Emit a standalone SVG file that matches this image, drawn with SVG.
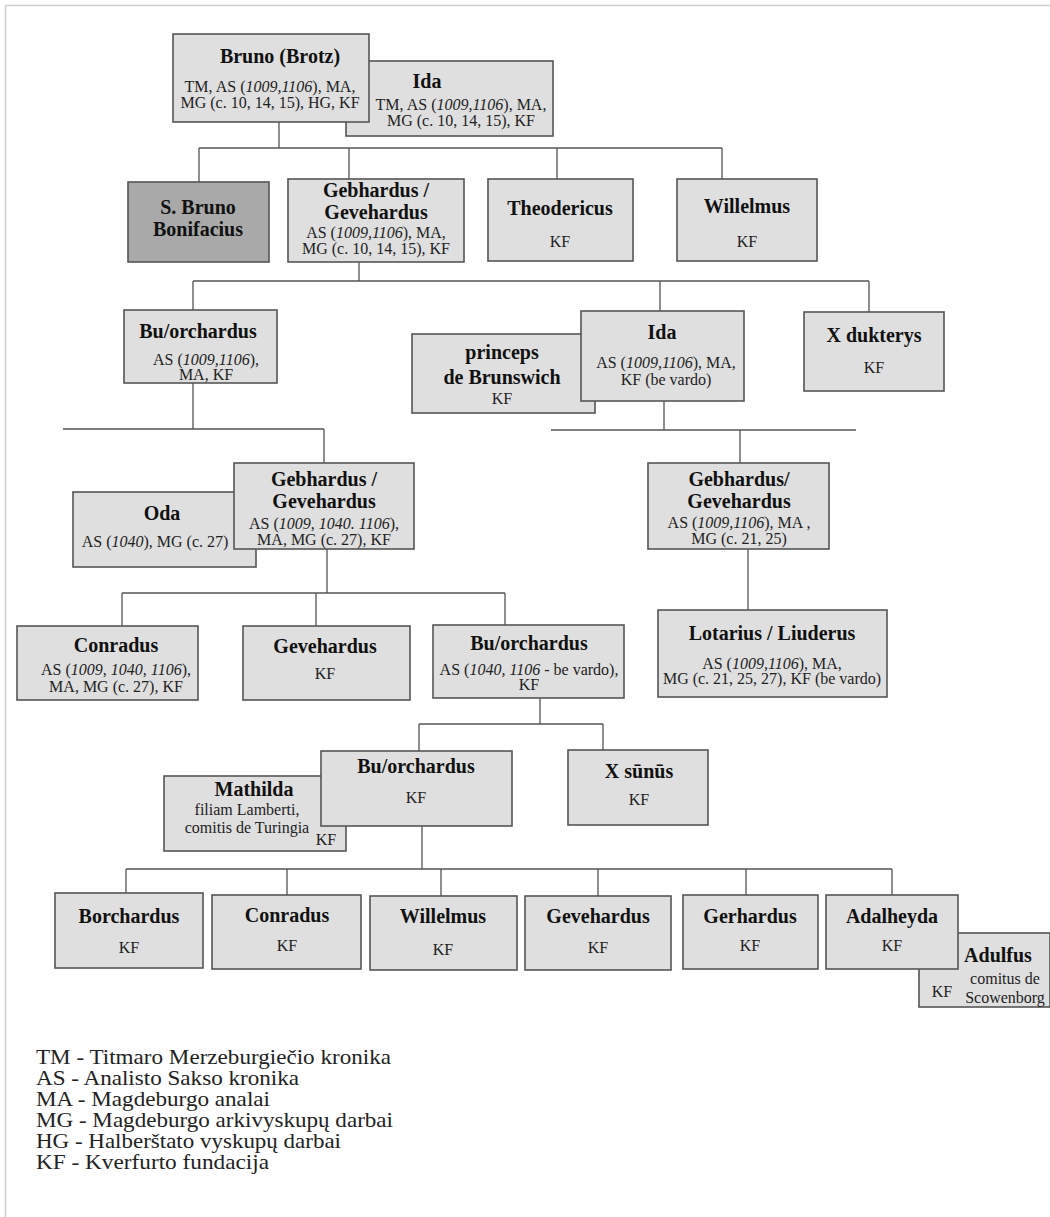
<svg xmlns="http://www.w3.org/2000/svg" width="1050" height="1217" viewBox="0 0 1050 1217">
<style>
.bx{fill:#dfdfdf;stroke:#555;stroke-width:1.6}
.dk{fill:#a9a9a9;stroke:#555;stroke-width:1.6}
.t{font-family:"Liberation Serif","Times New Roman",serif;font-weight:bold;font-size:20px;fill:#111;text-anchor:middle}
.s{font-family:"Liberation Serif","Times New Roman",serif;font-size:16px;fill:#222;text-anchor:middle}
.lg{font-family:"Liberation Serif","Times New Roman",serif;font-size:21px;fill:#222}
.c{fill:none;stroke:#555;stroke-width:1.3}
.fr{stroke:#cfcfcf;stroke-width:1.5}
</style>
<rect x="0" y="0" width="1050" height="1217" fill="#fff"/>
<line class="fr" x1="5" y1="5.5" x2="1050" y2="5.5"/>
<line class="fr" x1="5.5" y1="5" x2="5.5" y2="1217"/>
<g id="connectors">
<path class="c" d="M279,122V148M199,148H722M199,148V182M349,148V179M557,148V179M722,148V179"/>
<path class="c" d="M359,262V281M193,281H869M193,281V310M660,281V311M869,281V312"/>
<path class="c" d="M193,383V429M63,429H324M324,429V463"/>
<path class="c" d="M664,401V430M551,430H856M740,430V463"/>
<path class="c" d="M327,549V593M122,593H505M122,593V626M316,593V626M505,593V625"/>
<path class="c" d="M748,549V610"/>
<path class="c" d="M540,698V724M419,724H603M419,724V751M603,724V750"/>
<path class="c" d="M422,826V869M126,869H892M126,869V893M287,869V895M441,869V896M598,869V896M746,869V895M892,869V895"/>
</g>
<g id="n_ida1"><rect class="bx" x="346" y="61" width="207" height="75"/>
<text class="t" x="427" y="88">Ida</text>
<text class="s" x="461" y="110">TM, AS (<tspan font-style="italic">1009,1106</tspan>), MA,</text>
<text class="s" x="461" y="126">MG (c. 10, 14, 15), KF</text></g>
<g id="n_bruno"><rect class="bx" x="173" y="34" width="196" height="88"/>
<text class="t" x="280" y="63">Bruno (Brotz)</text>
<text class="s" x="270" y="92">TM, AS (<tspan font-style="italic">1009,1106</tspan>), MA,</text>
<text class="s" x="270" y="108">MG (c. 10, 14, 15), HG, KF</text></g>
<g id="n_sbruno"><rect class="dk" x="128" y="182" width="141" height="80"/>
<text class="t" x="198" y="214">S. Bruno</text>
<text class="t" x="198" y="236">Bonifacius</text></g>
<g id="n_gebh1"><rect class="bx" x="288" y="179" width="176" height="83"/>
<text class="t" x="376" y="197">Gebhardus /</text>
<text class="t" x="376" y="219">Gevehardus</text>
<text class="s" x="376" y="238">AS (<tspan font-style="italic">1009,1106</tspan>), MA,</text>
<text class="s" x="376" y="254">MG (c. 10, 14, 15), KF</text></g>
<g id="n_theod"><rect class="bx" x="488" y="179" width="145" height="82"/>
<text class="t" x="560" y="215">Theodericus</text>
<text class="s" x="560" y="247">KF</text></g>
<g id="n_will1"><rect class="bx" x="677" y="179" width="140" height="82"/>
<text class="t" x="747" y="213">Willelmus</text>
<text class="s" x="747" y="247">KF</text></g>
<g id="n_bu1"><rect class="bx" x="124" y="310" width="153" height="73"/>
<text class="t" x="198" y="338">Bu/orchardus</text>
<text class="s" x="206" y="365">AS (<tspan font-style="italic">1009,1106</tspan>),</text>
<text class="s" x="206" y="380">MA, KF</text></g>
<g id="n_princeps"><rect class="bx" x="412" y="334" width="183" height="79"/>
<text class="t" x="502" y="359">princeps</text>
<text class="t" x="502" y="384">de Brunswich</text>
<text class="s" x="502" y="404">KF</text></g>
<g id="n_ida2"><rect class="bx" x="581" y="311" width="163" height="90"/>
<text class="t" x="662" y="339">Ida</text>
<text class="s" x="666" y="368">AS (<tspan font-style="italic">1009,1106</tspan>), MA,</text>
<text class="s" x="666" y="385">KF (be vardo)</text></g>
<g id="n_xdukt"><rect class="bx" x="804" y="312" width="140" height="79"/>
<text class="t" x="874" y="342">X dukterys</text>
<text class="s" x="874" y="373">KF</text></g>
<g id="n_oda"><rect class="bx" x="73" y="492" width="183" height="75"/>
<text class="t" x="162" y="520">Oda</text>
<text class="s" x="155" y="547">AS (<tspan font-style="italic">1040</tspan>), MG (c. 27)</text></g>
<g id="n_gebh2"><rect class="bx" x="234" y="463" width="180" height="86"/>
<text class="t" x="324" y="486">Gebhardus /</text>
<text class="t" x="324" y="508">Gevehardus</text>
<text class="s" x="324" y="529">AS (<tspan font-style="italic">1009</tspan>, <tspan font-style="italic">1040. 1106</tspan>),</text>
<text class="s" x="324" y="545">MA, MG (c. 27), KF</text></g>
<g id="n_gebh3"><rect class="bx" x="648" y="463" width="181" height="86"/>
<text class="t" x="739" y="486">Gebhardus/</text>
<text class="t" x="739" y="508">Gevehardus</text>
<text class="s" x="739" y="528">AS (<tspan font-style="italic">1009,1106</tspan>), MA ,</text>
<text class="s" x="739" y="544">MG (c. 21, 25)</text></g>
<g id="n_conr1"><rect class="bx" x="17" y="626" width="181" height="74"/>
<text class="t" x="116" y="652">Conradus</text>
<text class="s" x="116" y="675">AS (<tspan font-style="italic">1009</tspan>, <tspan font-style="italic">1040</tspan>, <tspan font-style="italic">1106</tspan>),</text>
<text class="s" x="116" y="692">MA, MG (c. 27), KF</text></g>
<g id="n_geve1"><rect class="bx" x="243" y="626" width="167" height="74"/>
<text class="t" x="325" y="653">Gevehardus</text>
<text class="s" x="325" y="679">KF</text></g>
<g id="n_bu2"><rect class="bx" x="433" y="625" width="191" height="73"/>
<text class="t" x="529" y="650">Bu/orchardus</text>
<text class="s" x="529" y="675">AS (<tspan font-style="italic">1040, 1106</tspan> - be vardo),</text>
<text class="s" x="529" y="690">KF</text></g>
<g id="n_lotar"><rect class="bx" x="658" y="610" width="229" height="87"/>
<text class="t" x="772" y="640">Lotarius / Liuderus</text>
<text class="s" x="772" y="669">AS (<tspan font-style="italic">1009,1106</tspan>), MA,</text>
<text class="s" x="772" y="684">MG (c. 21, 25, 27), KF (be vardo)</text></g>
<g id="n_mathilda"><rect class="bx" x="164" y="776" width="182" height="75"/>
<text class="t" x="254" y="796">Mathilda</text>
<text class="s" x="247" y="815">filiam Lamberti,</text>
<text class="s" x="247" y="833">comitis de Turingia</text>
<text class="s" x="326" y="845">KF</text></g>
<g id="n_bu3"><rect class="bx" x="321" y="751" width="191" height="75"/>
<text class="t" x="416" y="773">Bu/orchardus</text>
<text class="s" x="416" y="803">KF</text></g>
<g id="n_xsunus"><rect class="bx" x="568" y="750" width="140" height="75"/>
<text class="t" x="639" y="778">X sūnūs</text>
<text class="s" x="639" y="805">KF</text></g>
<g id="n_borch"><rect class="bx" x="55" y="893" width="148" height="75"/>
<text class="t" x="129" y="923">Borchardus</text>
<text class="s" x="129" y="953">KF</text></g>
<g id="n_conr2"><rect class="bx" x="212" y="895" width="149" height="74"/>
<text class="t" x="287" y="922">Conradus</text>
<text class="s" x="287" y="951">KF</text></g>
<g id="n_will2"><rect class="bx" x="370" y="896" width="147" height="74"/>
<text class="t" x="443" y="923">Willelmus</text>
<text class="s" x="443" y="955">KF</text></g>
<g id="n_geve2"><rect class="bx" x="525" y="896" width="146" height="74"/>
<text class="t" x="598" y="923">Gevehardus</text>
<text class="s" x="598" y="953">KF</text></g>
<g id="n_gerh"><rect class="bx" x="683" y="895" width="135" height="74"/>
<text class="t" x="750" y="923">Gerhardus</text>
<text class="s" x="750" y="951">KF</text></g>
<g id="n_adulf"><rect class="bx" x="919" y="933" width="131" height="74"/>
<text class="t" x="998" y="962">Adulfus</text>
<text class="s" x="1005" y="984">comitus de</text>
<text class="s" x="1005" y="1003">Scowenborg</text>
<text class="s" x="942" y="997">KF</text></g>
<g id="n_adal"><rect class="bx" x="826" y="895" width="132" height="74"/>
<text class="t" x="892" y="923">Adalheyda</text>
<text class="s" x="892" y="951">KF</text></g>
<g id="legend">
<text class="lg" x="36" y="1064" textLength="355" lengthAdjust="spacingAndGlyphs">TM - Titmaro Merzeburgiečio kronika</text>
<text class="lg" x="36" y="1085" textLength="263" lengthAdjust="spacingAndGlyphs">AS - Analisto Sakso kronika</text>
<text class="lg" x="36" y="1106" textLength="234" lengthAdjust="spacingAndGlyphs">MA - Magdeburgo analai</text>
<text class="lg" x="36" y="1127" textLength="357" lengthAdjust="spacingAndGlyphs">MG - Magdeburgo arkivyskupų darbai</text>
<text class="lg" x="36" y="1148" textLength="305" lengthAdjust="spacingAndGlyphs">HG - Halberštato vyskupų darbai</text>
<text class="lg" x="36" y="1169" textLength="233" lengthAdjust="spacingAndGlyphs">KF - Kverfurto fundacija</text>
</g>
</svg>
